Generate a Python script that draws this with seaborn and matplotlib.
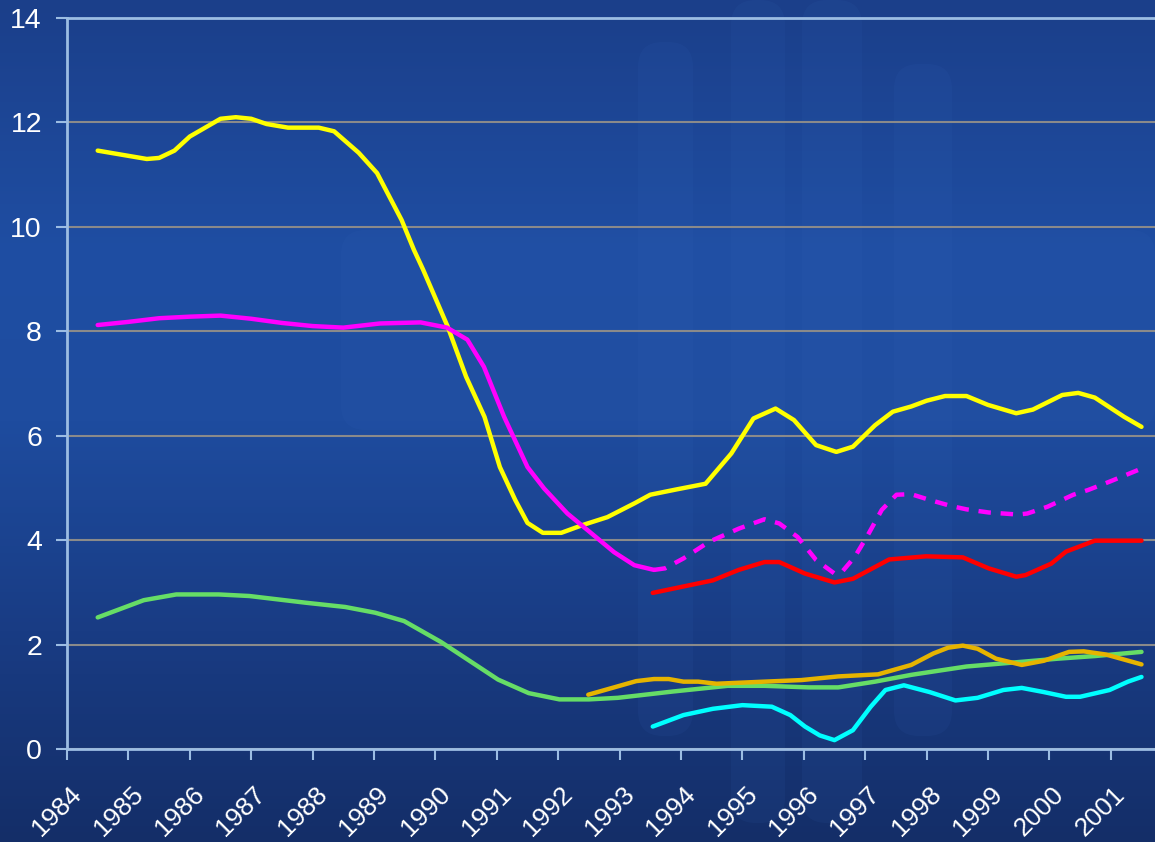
import numpy as np
import pandas as pd
import matplotlib
matplotlib.use("Agg")
import matplotlib.pyplot as plt
import seaborn as sns
from matplotlib.colors import LinearSegmentedColormap
from matplotlib.patches import FancyBboxPatch
from matplotlib.transforms import ScaledTranslation

# ---- data ----
yellow_x = [1984.5, 1985.3, 1985.5, 1985.75, 1986.0, 1986.5, 1986.75, 1987.0, 1987.25, 1987.6,
            1988.1, 1988.35, 1988.75, 1989.05, 1989.45, 1989.65, 1989.8, 1990.2, 1990.5, 1990.8,
            1991.05, 1991.3, 1991.5, 1991.75, 1992.05, 1992.4, 1992.8, 1993.25, 1993.5, 1993.92,
            1994.4, 1994.82, 1995.18, 1995.54, 1995.84, 1996.2, 1996.53, 1996.8, 1997.16, 1997.45,
            1997.75, 1998.0, 1998.3, 1998.65, 1999.0, 1999.46, 1999.73, 2000.21, 2000.47, 2000.74,
            2001.22, 2001.5]
yellow_y = [11.46, 11.30, 11.32, 11.46, 11.73, 12.07, 12.10, 12.07, 11.97, 11.90,
            11.90, 11.83, 11.42, 11.03, 10.13, 9.56, 9.18, 8.09, 7.13, 6.36,
            5.40, 4.77, 4.33, 4.14, 4.14, 4.29, 4.44, 4.71, 4.87, 4.97,
            5.08, 5.66, 6.33, 6.52, 6.30, 5.82, 5.69, 5.79, 6.20, 6.46,
            6.56, 6.67, 6.76, 6.76, 6.59, 6.43, 6.50, 6.78, 6.82, 6.73,
            6.36, 6.17]

magenta_x = [1984.5, 1985.0, 1985.5, 1986.0, 1986.5, 1987.0, 1987.5, 1988.0, 1988.5, 1989.1,
             1989.76, 1990.19, 1990.52, 1990.79, 1991.12, 1991.5, 1991.77, 1992.15, 1992.48,
             1992.91, 1993.24, 1993.56]
magenta_y = [8.12, 8.18, 8.25, 8.28, 8.30, 8.24, 8.16, 8.10, 8.07, 8.15,
             8.17, 8.07, 7.84, 7.32, 6.36, 5.40, 4.99, 4.51, 4.19,
             3.77, 3.52, 3.43]

magenta_dash_x = [1993.56, 1993.74, 1994.04, 1994.46, 1994.94, 1995.36, 1995.6, 1995.9, 1996.2,
                  1996.5, 1996.62, 1996.83, 1997.03, 1997.27, 1997.51, 1997.75, 1998.05, 1998.41,
                  1998.65, 1999.01, 1999.49, 1999.64, 1999.97, 2000.39, 2000.63, 2000.98, 2001.5]
magenta_dash_y = [3.43, 3.46, 3.65, 3.97, 4.22, 4.40, 4.32, 4.06, 3.62,
                  3.36, 3.39, 3.68, 4.07, 4.58, 4.87, 4.88, 4.77, 4.65,
                  4.59, 4.53, 4.49, 4.51, 4.64, 4.87, 4.96, 5.12, 5.37]

red_x = [1993.54, 1994.52, 1994.94, 1995.36, 1995.6, 1996.02, 1996.5, 1996.8, 1997.39, 1997.99,
         1998.59, 1999.01, 1999.46, 1999.61, 2000.03, 2000.27, 2000.74, 2001.5]
red_y = [2.99, 3.23, 3.43, 3.58, 3.58, 3.36, 3.19, 3.26, 3.63, 3.69,
         3.67, 3.46, 3.30, 3.33, 3.55, 3.78, 3.99, 3.99]

green_x = [1984.5, 1985.25, 1985.78, 1986.47, 1986.97, 1987.9, 1988.53, 1989.02, 1989.49, 1990.09,
           1991.02, 1991.52, 1992.02, 1992.5, 1992.97, 1993.86, 1994.76, 1995.36, 1996.08, 1996.56,
           1997.16, 1997.75, 1998.65, 1999.55, 2000.14, 2000.74, 2001.5]
green_y = [2.52, 2.85, 2.96, 2.96, 2.93, 2.80, 2.72, 2.61, 2.45, 2.05,
           1.33, 1.07, 0.95, 0.95, 0.98, 1.10, 1.21, 1.21, 1.18, 1.18,
           1.29, 1.42, 1.58, 1.67, 1.73, 1.78, 1.86]

orange_x = [1992.49, 1993.27, 1993.56, 1993.8, 1994.04, 1994.28, 1994.58, 1995.36, 1995.96, 1996.56,
            1997.21, 1997.75, 1998.11, 1998.35, 1998.59, 1998.83, 1999.13, 1999.55, 1999.91, 2000.32,
            2000.56, 2000.92, 2001.5]
orange_y = [1.04, 1.30, 1.34, 1.34, 1.29, 1.29, 1.25, 1.29, 1.32, 1.39,
            1.43, 1.61, 1.83, 1.94, 1.98, 1.92, 1.73, 1.61, 1.69, 1.86,
            1.87, 1.81, 1.62]

cyan_x = [1993.54, 1994.04, 1994.52, 1995.0, 1995.48, 1995.78, 1996.02, 1996.26, 1996.5, 1996.8,
          1997.09, 1997.33, 1997.63, 1998.05, 1998.47, 1998.83, 1999.25, 1999.55, 1999.91, 2000.27,
          2000.5, 2000.98, 2001.28, 2001.5]
cyan_y = [0.43, 0.65, 0.77, 0.84, 0.81, 0.65, 0.43, 0.26, 0.17, 0.36,
          0.81, 1.13, 1.22, 1.09, 0.93, 0.98, 1.13, 1.17, 1.09, 1.00,
          1.00, 1.13, 1.29, 1.38]

years = list(range(1984, 2002))
y_ticks = [0, 2, 4, 6, 8, 10, 12, 14]

sns.set_theme(style="white")
plt.rcParams["font.family"] = ["Liberation Sans", "DejaVu Sans"]

fig = plt.figure(figsize=(11.55, 8.42), dpi=100)

# background gradient
bg = fig.add_axes([0, 0, 1, 1], zorder=-2)
cmap = LinearSegmentedColormap.from_list(
    "bg", [(0.0, "#1b3f8a"), (0.3, "#1f4ea3"), (0.5, "#1e4c9f"), (0.75, "#193c84"), (1.0, "#142e68")])
grad = np.linspace(0, 1, 256).reshape(-1, 1)
bg.imshow(grad, aspect="auto", cmap=cmap, extent=[0, 1155, 842, 0])
# faint watermark shapes
shapes = [(341, 230, 814, 200), (638, 42, 55, 694), (731, 0, 54, 823), (802, 0, 60, 823), (894, 64, 58, 672)]
for x0, y0, w, h in shapes:
    bg.add_patch(FancyBboxPatch((x0, y0), w, h, boxstyle="round,pad=0,rounding_size=25",
                                fc="#3a6cc0", ec="none", alpha=0.09))
bg.set_xlim(0, 1155)
bg.set_ylim(842, 0)
bg.axis("off")

ax = fig.add_axes([67 / 1155, 93 / 842, 1088 / 1155, 731 / 842])
ax.set_facecolor("none")

series = [
    (yellow_x, yellow_y, "#ffff00", "-"),
    (magenta_x, magenta_y, "#ff00ff", "-"),
    (magenta_dash_x, magenta_dash_y, "#ff00ff", (0, (2.8, 2.2))),
    (red_x, red_y, "#ff0000", "-"),
    (green_x, green_y, "#66dd66", "-"),
    (orange_x, orange_y, "#e6b400", "-"),
    (cyan_x, cyan_y, "#00ffff", "-"),
]
for xs, ys, col, ls in series:
    sns.lineplot(x=xs, y=ys, ax=ax, color=col, linewidth=3.2, linestyle=ls,
                 sort=False, estimator=None, solid_capstyle="round", legend=False)

ax.set_xlim(1984, 2001.72)
ax.set_ylim(0, 14)
ax.set_xticks(years)
ax.set_xticklabels([str(y) for y in years], rotation=45, fontsize=19, color="white",
                   ha="center", va="top")
ax.set_yticks(y_ticks)
ax.set_yticklabels([str(v) for v in y_ticks], fontsize=20.5, color="white")
ax.set_xlabel("")
ax.set_ylabel("")
ax.grid(axis="y", color="#8a8a8a", linewidth=1.5)
ax.grid(axis="x", visible=False)

axis_col = "#9cbde3"
for side in ["left", "bottom", "top"]:
    ax.spines[side].set_color(axis_col)
    ax.spines[side].set_linewidth(2)
ax.spines["right"].set_visible(False)
ax.tick_params(axis="x", direction="out", length=8, width=1.5, color=axis_col, pad=16, bottom=True)
ax.tick_params(axis="y", direction="out", length=8, width=1.5, color=axis_col, pad=10, left=True)

offset = ScaledTranslation(-0.1, 0, fig.dpi_scale_trans)
for lab in ax.get_xticklabels():
    lab.set_transform(lab.get_transform() + offset)

fig.savefig("out.png", dpi=100)
